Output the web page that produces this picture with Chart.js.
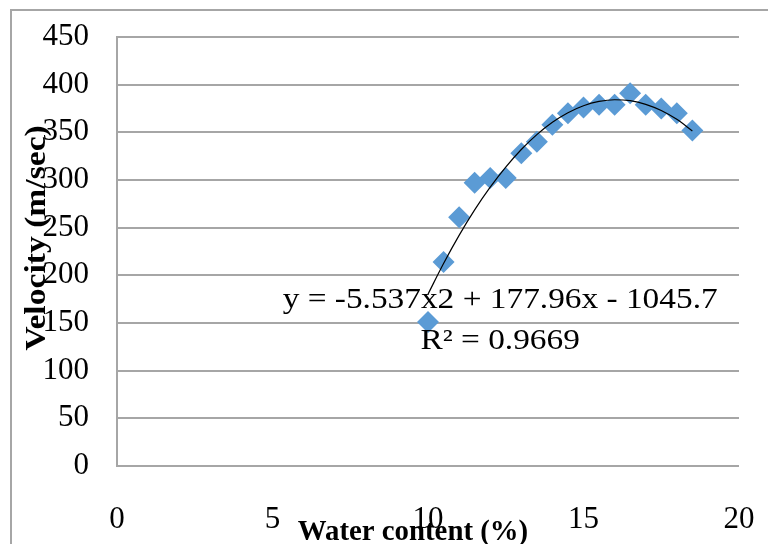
<!DOCTYPE html>
<html>
<head>
<meta charset="utf-8">
<script src="https://cdn.jsdelivr.net/npm/chart.js@4/dist/chart.umd.min.js"></script>
<style>
html,body{margin:0;padding:0;background:#fff;}
#wrap{position:relative;width:768px;height:544px;}
</style>
</head>
<body>
<div id="wrap"><canvas id="c" width="768" height="544"></canvas></div>
<script>
// Data
const waterContent = [10, 10.5, 11, 11.5, 12, 12.5, 13, 13.5, 14, 14.5, 15, 15.5, 16, 16.5, 17, 17.5, 18, 18.5];
const velocity = [151, 214, 261, 297, 302, 302, 328, 340, 358, 370, 376, 379, 379, 391, 379, 375, 370, 352];
// Polynomial trendline values (as drawn / as printed equation)
const trendX = [10, 10.5, 11, 11.5, 12, 12.5, 13, 13.5, 14, 14.5, 15, 15.5, 16, 16.5, 17, 17.5, 18, 18.5];
const trendY = [180.2, 212.4, 241.9, 268.6, 292.5, 313.6, 332.0, 347.6, 360.5, 370.6, 377.9, 382.4, 384.2, 383.2, 379.4, 372.9, 363.6, 351.5];
const xTicks = [0, 5, 10, 15, 20];
const yTicks = [0, 50, 100, 150, 200, 250, 300, 350, 400, 450];
const xTitle = 'Water content (%)';
const yTitle = 'Velocity (m/sec)';
const eqText = 'y = -5.537x2 + 177.96x - 1045.7';
const r2Text = 'R\u00B2 = 0.9669';

const FONT = '"Liberation Serif", "Times New Roman", serif';

function stretchedText(ctx, txt, x, y, sx) {
  ctx.save();
  ctx.translate(x, y);
  ctx.scale(sx, 1);
  ctx.fillText(txt, 0, 0);
  ctx.restore();
}

const textPlugin = {
  id: 'texts',
  beforeDraw(chart) {
    const ctx = chart.ctx;
    ctx.save();
    ctx.fillStyle = '#fff';
    ctx.fillRect(0, 0, chart.width, chart.height);
    ctx.strokeStyle = '#a6a6a6';
    ctx.lineWidth = 2;
    ctx.strokeRect(11, 10, 900, 700);
    ctx.restore();
  },
  afterDraw(chart) {
    const ctx = chart.ctx;
    const xs = chart.scales.x, ys = chart.scales.y;
    ctx.save();
    ctx.fillStyle = '#000';
    ctx.textAlign = 'center';
    ctx.textBaseline = 'middle';
    ctx.font = '29px ' + FONT;
    stretchedText(ctx, eqText, xs.getPixelForValue(12.32), ys.getPixelForValue(174), 1.15);
    stretchedText(ctx, r2Text, xs.getPixelForValue(12.32), ys.getPixelForValue(131), 1.15);
    ctx.font = 'bold 30px ' + FONT;
    stretchedText(ctx, xTitle, 413, 532, 0.96);
    ctx.translate(37, 238);
    ctx.rotate(-Math.PI / 2);
    ctx.scale(1.12, 1);
    ctx.fillText(yTitle, 0, 0);
    ctx.restore();
  }
};

new Chart(document.getElementById('c'), {
  type: 'scatter',
  data: {
    datasets: [
      {
        label: 'Velocity',
        data: waterContent.map((x, i) => ({x: x, y: velocity[i]})),
        pointStyle: 'rectRot',
        pointRadius: 11,
        pointBackgroundColor: '#5B9BD5',
        pointBorderColor: '#5B9BD5',
        pointBorderWidth: 0,
        showLine: false,
        order: 2
      },
      {
        label: 'Trend',
        data: trendX.map((x, i) => ({x: x, y: trendY[i]})),
        showLine: true,
        borderColor: '#000',
        borderWidth: 1.2,
        pointRadius: 0,
        tension: 0.4,
        cubicInterpolationMode: 'monotone',
        fill: false,
        order: 1
      }
    ]
  },
  options: {
    responsive: false,
    animation: false,
    layout: {padding: {top: 37, right: 29, left: 0, bottom: 0}},
    plugins: {legend: {display: false}, tooltip: {enabled: false}, title: {display: false}},
    scales: {
      x: {
        type: 'linear',
        min: 0, max: 20,
        afterFit(s) { s.height = 78; s.paddingLeft = 0; s.paddingRight = 0; },
        afterBuildTicks(s) { s.ticks = xTicks.map(v => ({value: v})); },
        grid: {display: false, drawTicks: false},
        border: {display: false},
        ticks: {color: '#000', font: {family: FONT, size: 31}, padding: 35, maxRotation: 0, autoSkip: false}
      },
      y: {
        type: 'linear',
        min: 0, max: 450,
        afterFit(s) { s.width = 117; s.paddingTop = 0; s.paddingBottom = 0; },
        afterBuildTicks(s) { s.ticks = yTicks.map(v => ({value: v})); },
        grid: {color: '#a6a6a6', lineWidth: 2, drawTicks: false},
        border: {display: true, color: '#a6a6a6', width: 2},
        ticks: {color: '#000', font: {family: FONT, size: 31}, padding: 28, autoSkip: false}
      }
    }
  },
  plugins: [textPlugin]
});
</script>
</body>
</html>
